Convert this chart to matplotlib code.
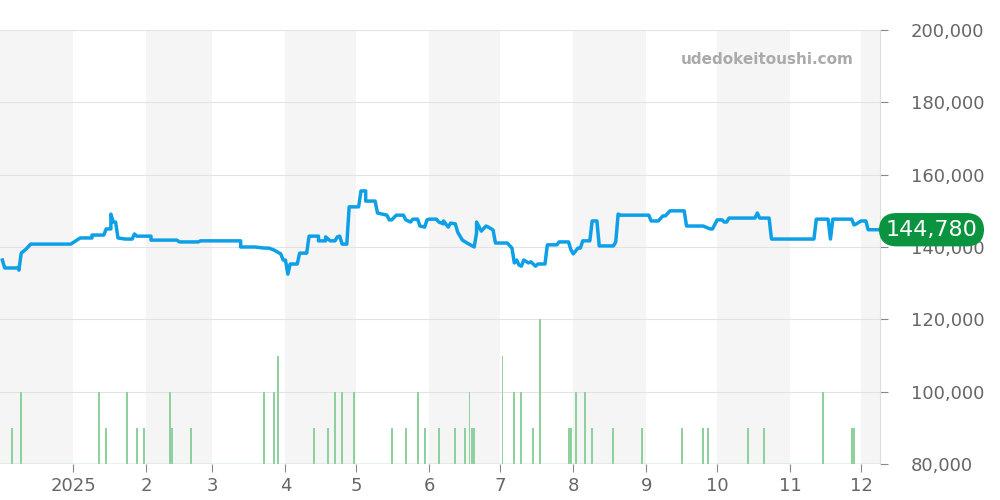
import numpy as np
import matplotlib.pyplot as plt

start = np.datetime64('2024-12-01')

# price series: day offset from 2024-12-01, price in yen
price_days = [1, 2, 8, 8, 9, 11, 13, 30, 34, 39, 39, 44, 45, 47, 47, 48, 49, 50, 53, 56,
              57, 58, 64, 64, 75, 76, 84, 85, 102, 102, 108, 112, 114, 116, 119, 120, 121, 122, 123, 126,
              127, 130, 131, 135, 135, 138, 138, 140, 142, 143, 144, 145, 147, 148, 152, 153, 155, 155, 159, 160,
              164, 165, 166, 168, 171, 172, 174, 175, 177, 178, 180, 181, 182, 185, 186, 188, 188, 190, 191, 193,
              194, 196, 198, 201, 202, 202, 204, 204, 206, 207, 209, 210, 215, 217, 218, 219, 220, 221, 222, 224,
              225, 227, 228, 231, 232, 236, 237, 241, 242, 243, 245, 246, 247, 250, 251, 253, 254, 260, 261, 262,
              263, 266, 275, 276, 279, 281, 282, 284, 290, 291, 298, 301, 302, 304, 306, 307, 308, 309, 320, 321,
              322, 326, 327, 345, 346, 351, 352, 353, 361, 362, 363, 365, 367, 368, 373]
price_vals = [136400, 134200, 134200, 133600, 138300, 139400, 140800, 140800, 142500, 142500,
              143300, 143300, 145000, 145000, 149100, 146900, 146900, 142500, 142200, 142200,
              143600, 143000, 143000, 141900, 141900, 141400, 141400, 141700, 141700, 140000,
              140000, 139700, 139700, 139200, 138100, 136400, 136400, 132500, 135300, 135300,
              138300, 138300, 143000, 143000, 141700, 141700, 142800, 141700, 141700, 142800,
              143000, 140800, 140800, 151100, 151100, 155500, 155500, 152700, 152700, 149400,
              148800, 147500, 147500, 148800, 148800, 147500, 146900, 147700, 147700, 145800,
              145500, 147500, 147700, 147700, 146900, 146400, 147200, 145500, 146600, 146400,
              144100, 141900, 141100, 140000, 143900, 146900, 144400, 144400, 145800, 145500,
              144700, 141100, 141100, 139700, 135600, 136400, 135000, 134700, 136400, 135600,
              135900, 134700, 135300, 135300, 140600, 140600, 141400, 141400, 139200, 138100,
              139700, 139700, 141700, 141700, 147200, 147200, 140300, 140300, 141400, 149100,
              148800, 148800, 148800, 147200, 147200, 148600, 148600, 150000, 150000, 145800,
              145800, 145000, 145000, 147500, 147500, 146900, 146900, 148000, 148000, 149400,
              148000, 148000, 142200, 142200, 147700, 147700, 142200, 147700, 147700, 146100,
              146400, 147200, 147200, 144780, 144780]

# volume (number of sales per day)
vol_days = [5, 9, 42, 45, 54, 58, 61, 72, 73, 81, 112, 116, 118, 133, 139, 142, 145, 150, 166, 172,
            177, 180, 186, 193, 197, 199, 200, 201, 213, 218, 221, 226, 229, 241, 242, 244, 248, 251, 260, 272,
            289, 298, 300, 317, 324, 349, 361, 362]
vol_counts = [1, 2, 2, 1, 2, 1, 1, 2, 1, 1, 2, 2, 3, 1, 1, 2, 2, 2, 1, 1,
              2, 1, 1, 1, 1, 2, 1, 1, 3, 2, 2, 1, 4, 1, 1, 2, 2, 1, 1, 1,
              1, 1, 1, 1, 1, 2, 1, 1]

last_price = 144780
months = ['2025-01-01', '2025-02-01', '2025-03-01', '2025-04-01', '2025-05-01', '2025-06-01',
          '2025-07-01', '2025-08-01', '2025-09-01', '2025-10-01', '2025-11-01', '2025-12-01']
month_labels = ['2025', '2', '3', '4', '5', '6', '7', '8', '9', '10', '11', '12']

px = (start + np.array(price_days)).astype('datetime64[D]').astype(object)
vx = (start + np.array(vol_days)).astype('datetime64[D]').astype(object)

fig = plt.figure(figsize=(10, 5), dpi=100)
ax = fig.add_axes([0, 0.072, 0.88, 0.868])

x0 = np.datetime64('2024-12-01').astype(object)
x1 = np.datetime64('2025-12-09').astype(object)

# alternating month shading
edges = ['2024-12-01'] + months + ['2026-01-01']
for i in range(0, len(edges) - 1, 2):
    ax.axvspan(np.datetime64(edges[i]).astype(object), np.datetime64(edges[i + 1]).astype(object),
               color='#f5f5f5', zorder=0, lw=0)

ax.bar(vx, np.array(vol_counts) * 10000, bottom=80000, width=0.8, color='#8fd19e', zorder=2)
ax.axhline(80000, color='#8fd19e', lw=1, zorder=2)
ax.plot(px, price_vals, color='#0ea0e6', lw=2.5, zorder=3, solid_joinstyle='round')

ax.set_xlim(x0, x1)
ax.set_ylim(80000, 200000)
ax.yaxis.tick_right()
ax.set_yticks(range(80000, 200001, 20000))
ax.set_yticklabels([f'{v:,}' for v in range(80000, 200001, 20000)])
ax.grid(axis='y', color='#e3e3e3', lw=0.8, zorder=1)
ax.set_xticks([np.datetime64(m).astype(object) for m in months])
ax.set_xticklabels(month_labels)
ax.tick_params(axis='both', colors='#888888', labelcolor='#666666', labelsize=13, length=6)
ax.tick_params(axis='y', pad=16)
for s in ax.spines.values():
    s.set_visible(False)
ax.spines['right'].set_visible(True)
ax.spines['right'].set_color('#dddddd')

ax.text(0.97, 0.95, 'udedokeitoushi.com', transform=ax.transAxes, ha='right', va='top',
        color='#aaaaaa', fontsize=11, fontweight='bold')

ax.annotate(f'{last_price:,}', xy=(1.0, last_price), xycoords=('axes fraction', 'data'),
            xytext=(4, 0), textcoords='offset points', ha='left', va='center',
            color='white', fontsize=16,
            bbox=dict(boxstyle='round,pad=0.3,rounding_size=0.8', fc='#0a9440', ec='none'))

fig.savefig('out.png', dpi=100)
